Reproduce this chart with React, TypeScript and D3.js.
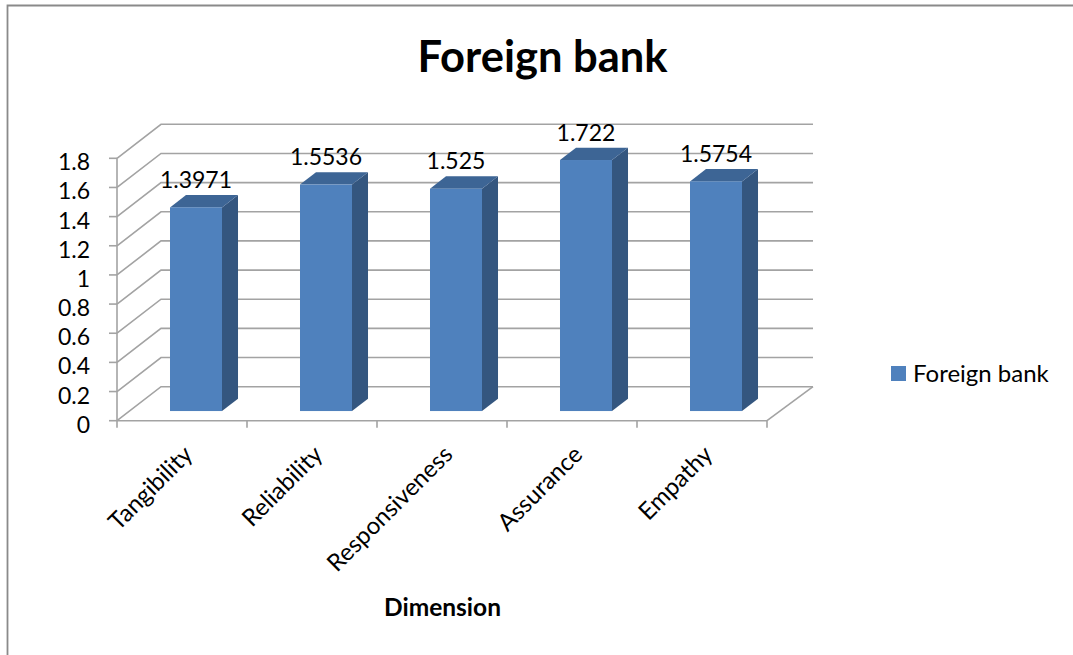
import React from "react";
import * as d3 from "d3";

const categories = ["Tangibility", "Reliability", "Responsiveness", "Assurance", "Empathy"];
const values = [1.3971, 1.5536, 1.525, 1.722, 1.5754];
const valueLabels = ["1.3971", "1.5536", "1.525", "1.722", "1.5754"];
const yTicks = [0, 0.2, 0.4, 0.6, 0.8, 1, 1.2, 1.4, 1.6, 1.8];
const seriesName = "Foreign bank";
const title = "Foreign bank";
const xTitle = "Dimension";

const W = 1073;
const H = 655;
const FONT = "Lato, 'Open Sans', sans-serif";

export default function App() {
  const x = d3.scaleBand<string>().domain(categories).range([117, 767]);
  const y = d3.scaleLinear().domain([0, 1.8]).range([420.7, 158.3]);
  const DX = 44; // depth offset
  const DY = -34;
  const f0 = 0.284;
  const fd = 0.364;
  const dx0 = DX * f0, dy0 = DY * f0;
  const sdx = DX * fd, sdy = DY * fd;
  const bw = x.bandwidth() * 0.4;
  const backRight = x.range()[1] + DX;
  const grid = "#a3a3a3";

  return (
    <svg width={W} height={H} style={{ position: "absolute", left: 0, top: 0, background: "#fff" }}>
      {/* outer frame */}
      <path d={`M7.5,${H + 5} L7.5,5.5 L${W + 5},5.5`} fill="none" stroke="#8a8a8a" strokeWidth={1.8} />

      {/* title */}
      <text x={542.5} y={71.7} textAnchor="middle" fontFamily={FONT} fontWeight="bold" fontSize={43.5} fill="#000">
        {title}
      </text>

      {/* gridlines: side wall + back wall */}
      {yTicks.map((t) => (
        <path
          key={"g" + t}
          d={`M${x.range()[0]},${y(t)} L${x.range()[0] + DX},${y(t) + DY} L${backRight + 2},${y(t) + DY}`}
          fill="none"
          stroke={grid}
          strokeWidth={1.6}
        />
      ))}
      {/* floor right edge */}
      <path d={`M${x.range()[1]},${y(0)} L${backRight + 2},${y(0) + DY}`} fill="none" stroke={grid} strokeWidth={1.6} />
      {/* floor front edge / x axis */}
      <path d={`M${x.range()[0]},${y(0)} L${x.range()[1]},${y(0)}`} fill="none" stroke={grid} strokeWidth={1.6} />
      {/* x ticks */}
      {[...categories.map((c) => x(c)!), x.range()[1]].map((px, i) => (
        <line key={"xt" + i} x1={px} x2={px} y1={y(0)} y2={y(0) + 7} stroke={grid} strokeWidth={1.6} />
      ))}
      {/* y axis */}
      <line x1={x.range()[0]} x2={x.range()[0]} y1={y(1.8)} y2={y(0)} stroke={grid} strokeWidth={1.6} />
      {yTicks.map((t) => (
        <line key={"yt" + t} x1={x.range()[0] - 8} x2={x.range()[0]} y1={y(t)} y2={y(t)} stroke={grid} strokeWidth={1.6} />
      ))}
      {yTicks.map((t) => (
        <text
          key={"yl" + t}
          x={90}
          y={y(t) + 12}
          textAnchor="end"
          fontFamily={FONT}
          fontSize={23}
          fill="#000"
        >
          {String(t)}
        </text>
      ))}

      {/* bars */}
      {categories.map((c, i) => {
        const cx = x(c)! + x.bandwidth() / 2 + 1.5;
        const fx0 = cx - bw / 2 + dx0;
        const fx1 = cx + bw / 2 + dx0;
        const yb = y(0) + dy0;
        const yt = y(values[i]) + dy0;
        return (
          <g key={"b" + c}>
            <polygon
              points={`${fx1},${yt} ${fx1 + sdx},${yt + sdy} ${fx1 + sdx},${yb + sdy} ${fx1},${yb}`}
              fill="#34567f"
            />
            <polygon
              points={`${fx0},${yt} ${fx1},${yt} ${fx1 + sdx},${yt + sdy} ${fx0 + sdx},${yt + sdy}`}
              fill="#3d6595"
            />
            <rect x={fx0} y={yt} width={bw} height={yb - yt} fill="#4f81bd" />
            <text
              x={(fx0 + fx1) / 2}
              y={yt + sdy - 7}
              textAnchor="middle"
              fontFamily={FONT}
              fontSize={23}
              fill="#000"
            >
              {valueLabels[i]}
            </text>
          </g>
        );
      })}

      {/* category labels */}
      {categories.map((c) => {
        const px = x(c)! + x.bandwidth() / 2 + 12;
        const py = 456;
        return (
          <text
            key={"cl" + c}
            transform={`translate(${px},${py}) rotate(-45)`}
            textAnchor="end"
            fontFamily={FONT}
            fontSize={24}
            fill="#000"
          >
            {c}
          </text>
        );
      })}

      {/* x title */}
      <text x={442.5} y={615.7} textAnchor="middle" fontFamily={FONT} fontWeight="bold" fontSize={24.5} fill="#000">
        {xTitle}
      </text>

      {/* legend */}
      <rect x={891} y={366} width={15} height={15} fill="#4f81bd" />
      <text x={913} y={381.5} fontFamily={FONT} fontSize={24} fill="#000">
        {seriesName}
      </text>
    </svg>
  );
}
